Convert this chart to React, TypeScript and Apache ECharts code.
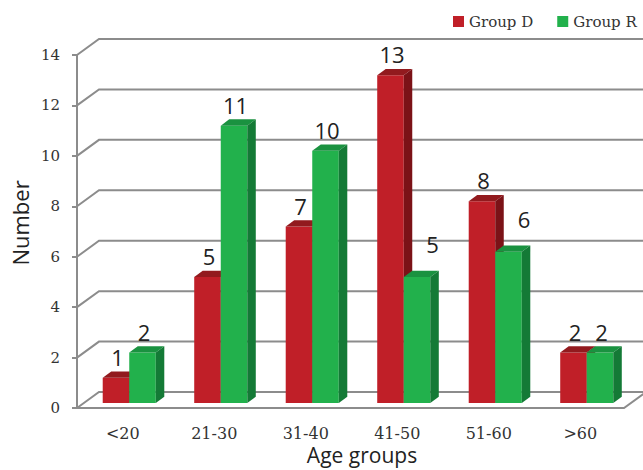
import React, { useEffect, useRef } from "react";
import * as echarts from "echarts";

const categories = ["<20", "21-30", "31-40", "41-50", "51-60", ">60"];
const groupD = [1, 5, 7, 13, 8, 2];
const groupR = [2, 11, 10, 5, 6, 2];
const yTicks = [0, 2, 4, 6, 8, 10, 12, 14];

const RED = { front: "#C01F28", top: "#921A1E", side: "#7B1217" };
const GREEN = { front: "#22B14C", top: "#1A9240", side: "#147A36" };
const GRID = "#8c8c8c";
const SANS = "'Open Sans', 'Noto Sans', sans-serif";
const SERIF = "'DejaVu Serif', serif";

function barRender(slot: number, c: { front: string; top: string; side: string }, other: number[]) {
  return (params: any, api: any) => {
    const idx = api.value(0);
    const v = api.value(1);
    const base = api.coord([idx, 0]);
    const top = api.coord([idx, v]);
    const band = api.size([1, 0])[0];
    const w = band * 0.29;
    const sx = 6.5, sy = -5;
    const dx = 8.5, dy = -6.3;
    const x0 = base[0] + sx - w + slot * w;
    const x1 = x0 + w;
    const yb = base[1] + sy;
    const yt = top[1] + sy;
    // Label shifted aside when the neighbouring (left) bar is taller
    const hidden = slot === 1 && other[idx] > v;
    const lx = x0 + w / 2 + 1.5 + (hidden ? 14 : 0);
    const ly = yt + dy - 14.5 - (hidden ? 12 : 0);
    return {
      type: "group",
      children: [
        {
          type: "polygon",
          shape: { points: [[x0, yt], [x1, yt], [x1, yb], [x0, yb]] },
          style: { fill: c.front },
        },
        {
          type: "polygon",
          shape: { points: [[x0, yt], [x1, yt], [x1 + dx, yt + dy], [x0 + dx, yt + dy]] },
          style: { fill: c.top },
        },
        {
          type: "polygon",
          shape: { points: [[x1, yt], [x1 + dx, yt + dy], [x1 + dx, yb + dy], [x1, yb]] },
          style: { fill: c.side },
        },
        {
          type: "text",
          style: {
            text: String(v),
            x: lx,
            y: ly,
            align: "center",
            verticalAlign: "middle",
            fontFamily: SANS,
            fontSize: 22,
            fill: "#222",
          },
        },
      ],
    };
  };
}

function wallRender(params: any, api: any) {
  const v = api.value(1);
  const p = api.coord([0, v]);
  const cs = params.coordSys;
  const x0 = cs.x;
  const y = p[1];
  const ddx = 22, ddy = -16;
  const children: any[] = [
    {
      type: "polyline",
      shape: { points: [[x0, y], [x0 + ddx, y + ddy], [760, y + ddy]] },
      style: { stroke: GRID, lineWidth: 2, fill: "none" },
    },
  ];
  if (v === 0) {
    const xr = x0 + cs.width - 2;
    children.push({
      type: "polyline",
      shape: { points: [[x0, y], [xr, y], [xr + ddx, y + ddy]] },
      style: { stroke: GRID, lineWidth: 2, fill: "none" },
    });
  }
  return { type: "group", children };
}

export default function App() {
  const ref = useRef<HTMLDivElement>(null);
  useEffect(() => {
    if (!ref.current) return;
    const chart = echarts.init(ref.current, null, { renderer: "svg" });
    chart.setOption({
      animation: false,
      backgroundColor: "#ffffff",
      grid: { left: 77, right: 17, top: 55, bottom: 62, containLabel: false },
      legend: {
        data: ["Group D", "Group R"],
        left: 453,
        top: 14,
        padding: 0,
        itemWidth: 11,
        itemHeight: 11,
        itemGap: 24,
        icon: "rect",
        textStyle: { fontFamily: SERIF, fontSize: 15, color: "#333" },
      },
      xAxis: {
        type: "category",
        data: categories,
        axisLine: { show: false },
        axisTick: { show: false },
        axisLabel: { margin: 17, fontFamily: SERIF, fontSize: 16, color: "#333" },
      },
      yAxis: {
        type: "value",
        min: 0,
        max: 14,
        interval: 2,
        axisLine: { show: true, lineStyle: { color: GRID, width: 2 } },
        axisTick: { show: true, length: 5, lineStyle: { color: GRID, width: 2 } },
        splitLine: { show: false },
        axisLabel: { margin: 17, fontFamily: SERIF, fontSize: 15, color: "#333" },
      },
      graphic: [
        {
          type: "text",
          x: 20,
          y: 223,
          rotation: Math.PI / 2,
          style: {
            text: "Number",
            align: "center",
            verticalAlign: "middle",
            fontFamily: SANS,
            fontSize: 22,
            fill: "#222",
          },
        },
        {
          type: "text",
          x: 362,
          y: 455,
          style: {
            text: "Age groups",
            align: "center",
            verticalAlign: "middle",
            fontFamily: SANS,
            fontSize: 21,
            fill: "#222",
          },
        },
      ],
      series: [
        {
          type: "custom",
          name: "walls",
          clip: false,
          z: 1,
          silent: true,
          renderItem: wallRender,
          data: yTicks.map((v) => [0, v]),
          encode: { x: 0, y: 1 },
        },
        {
          type: "custom",
          name: "Group D",
          clip: false,
          z: 2,
          itemStyle: { color: RED.front },
          renderItem: barRender(0, RED, groupR),
          data: groupD.map((v, i) => [i, v]),
          encode: { x: 0, y: 1 },
        },
        {
          type: "custom",
          name: "Group R",
          clip: false,
          z: 3,
          itemStyle: { color: GREEN.front },
          renderItem: barRender(1, GREEN, groupD),
          data: groupR.map((v, i) => [i, v]),
          encode: { x: 0, y: 1 },
        },
      ],
    });
    return () => chart.dispose();
  }, []);
  return (
    <div
      ref={ref}
      style={{ position: "fixed", left: 0, top: 0, width: 643, height: 470, background: "#fff" }}
    />
  );
}
